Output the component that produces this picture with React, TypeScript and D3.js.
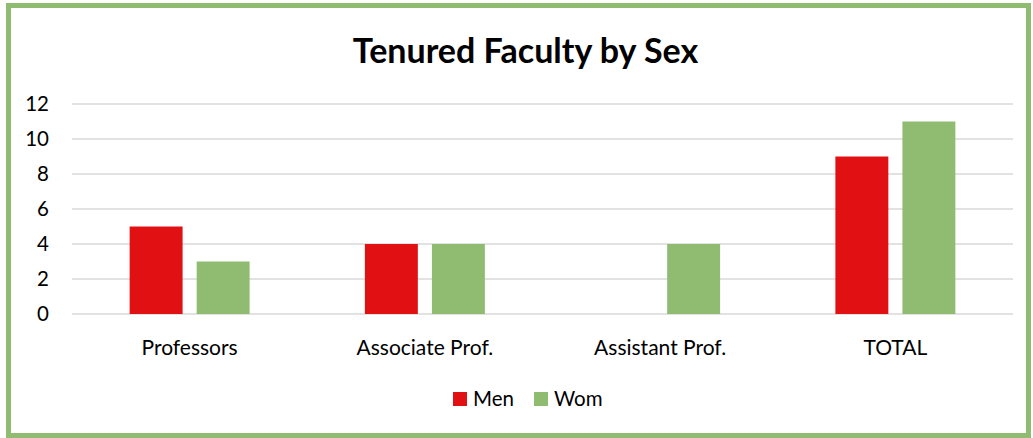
import React from 'react';
import * as d3 from 'd3';

const categories = ['Professors', 'Associate Prof.', 'Assistant Prof.', 'TOTAL'];
const seriesNames = ['Men', 'Wom'];
const menValues = [5, 4, 0, 9];
const womValues = [3, 4, 4, 11];
const yTicks = [0, 2, 4, 6, 8, 10, 12];

const colors: Record<string, string> = { Men: '#E11013', Wom: '#8FBC70' };

export default function App() {
  const width = 1033;
  const height = 438;
  const margin = { top: 104, right: 20, bottom: 124, left: 72 };
  const innerW = width - margin.left - margin.right;
  const innerH = height - margin.top - margin.bottom;

  const x0 = d3.scaleBand<string>()
    .domain(categories)
    .range([0, innerW])
    .paddingInner(0.49)
    .paddingOuter(0.245);

  const x1 = d3.scaleBand<string>()
    .domain(seriesNames)
    .range([0, x0.bandwidth()])
    .paddingInner(0.21);

  const y = d3.scaleLinear().domain([0, 12]).range([innerH, 0]);

  const rows = categories.map((c, i) => ({ category: c, Men: menValues[i], Wom: womValues[i] }));
  const font = 'Lato, Carlito, "Open Sans", sans-serif';

  return (
    <div style={{ position: 'absolute', left: 0, top: 0 }}>
      <svg width={width} height={height} style={{ display: 'block', fontFamily: font }}>
        <rect x={0} y={0} width={width} height={height} fill="#fff" />
        <rect x={8.5} y={5.5} width={width - 13} height={height - 8} fill="none" stroke="#8FBC70" strokeWidth={5} />
        <text x={width / 2 + 9} y={63} textAnchor="middle" fontSize={34} fontWeight={700} fill="#000">
          Tenured Faculty by Sex
        </text>
        <g transform={`translate(${margin.left},${margin.top})`}>
          {yTicks.map(t => (
            <g key={t}>
              <line x1={0} x2={innerW} y1={y(t)} y2={y(t)} stroke="#D9D9D9" strokeWidth={1.5} />
              <text x={-23} y={y(t)} dy="0.36em" textAnchor="end" fontSize={20.5} fill="#000">{t}</text>
            </g>
          ))}
          {rows.map(r => (
            <g key={r.category} transform={`translate(${x0(r.category)},0)`}>
              {seriesNames.map(s => {
                const v = (r as any)[s] as number;
                if (!v) return null;
                return (
                  <rect key={s} x={x1(s)} y={y(v)} width={x1.bandwidth()} height={innerH - y(v)} fill={colors[s]} />
                );
              })}
              <text x={x0.bandwidth() / 2} y={innerH + 41} textAnchor="middle" fontSize={21} fill="#000">
                {r.category}
              </text>
            </g>
          ))}
        </g>
        <g transform="translate(453,392)">
          {seriesNames.map((s, i) => (
            <g key={s} transform={`translate(${i * 81},0)`}>
              <rect x={0} y={0} width={14} height={14} fill={colors[s]} />
              <text x={20} y={7} dy="0.36em" fontSize={20.5} fill="#000">{s}</text>
            </g>
          ))}
        </g>
      </svg>
    </div>
  );
}
